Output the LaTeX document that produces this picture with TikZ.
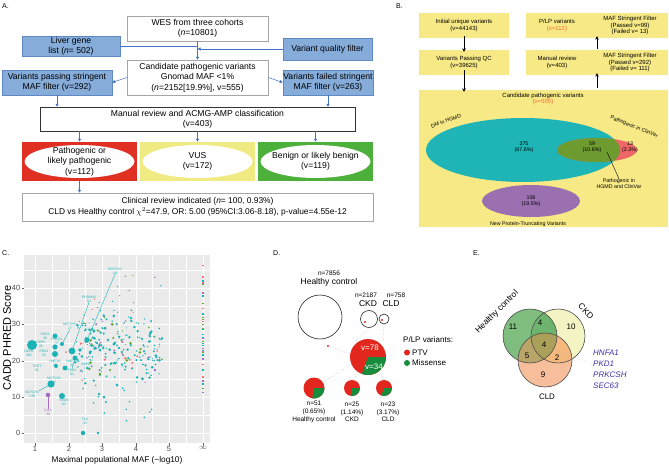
\documentclass[tikz,border=0pt]{standalone}
\usepackage{fontspec}
\setmainfont{Liberation Sans}
\usetikzlibrary{shapes.geometric,arrows.meta,calc}
\definecolor{cBlue}{RGB}{134,172,218}
\definecolor{cBlueE}{RGB}{96,136,196}
\definecolor{cArr}{RGB}{68,114,196}
\definecolor{cRed}{RGB}{224,48,36}
\definecolor{cYel}{RGB}{240,234,130}
\definecolor{cGrnA}{RGB}{76,176,58}
\definecolor{cYB}{RGB}{247,234,134}
\definecolor{cTeal}{RGB}{31,180,182}
\definecolor{cCV}{RGB}{238,102,102}
\definecolor{cOv}{RGB}{110,155,48}
\definecolor{cPurB}{RGB}{155,112,176}
\definecolor{cOr}{RGB}{240,110,50}
\definecolor{cPanel}{RGB}{235,235,235}
\definecolor{cPt}{RGB}{26,178,180}
\definecolor{cPurC}{RGB}{165,110,190}
\definecolor{cGrnC}{RGB}{100,165,40}
\definecolor{cPinkC}{RGB}{240,120,120}
\definecolor{cRedD}{RGB}{226,40,30}
\definecolor{cGrnD}{RGB}{22,140,60}
\definecolor{cHC}{RGB}{128,190,128}
\definecolor{cCKD}{RGB}{243,243,195}
\definecolor{cCLD}{RGB}{246,190,155}
\definecolor{cHCCKD}{RGB}{110,180,110}
\definecolor{cHCCLD}{RGB}{185,165,105}
\definecolor{cCKDCLD}{RGB}{245,185,125}
\definecolor{cTri}{RGB}{170,160,90}
\definecolor{cGene}{RGB}{60,50,170}
\tikzset{
  fA/.style={font=\fontsize{8.6}{10.4}\selectfont},
  fB/.style={font=\fontsize{6}{6.6}\selectfont},
  fBs/.style={font=\fontsize{5.3}{6}\selectfont},
  abox/.style={draw=gray!70, fill=white, align=center, inner sep=0pt, fA},
  bluebox/.style={draw=cBlueE, fill=cBlue, align=center, inner sep=0pt, fA},
  colbox/.style={inner sep=0pt, minimum width=115pt, minimum height=39pt},
  aline/.style={cArr, line width=0.5pt},
  aarr/.style={cArr, line width=0.5pt, -{Latex[length=3pt,width=3.4pt]}},
  ybox/.style={fill=cYB, inner sep=0pt, align=center, fB},
  barr/.style={black, line width=0.6pt, -{Stealth[length=3.5pt,width=3.5pt]}},
  plab/.style={font=\fontsize{7}{8}\selectfont, anchor=west, inner sep=0pt},
  glab/.style={text=cPt, font=\fontsize{3.4}{3.8}\selectfont, align=center, inner sep=0pt},
  tick/.style={text=black!70, font=\fontsize{7.5}{8}\selectfont, inner sep=0pt},
  dtxt/.style={font=\fontsize{6.5}{7.6}\selectfont, align=center, inner sep=0pt},
  dotl/.style={gray!70, dotted, line width=0.5pt},
  etxt/.style={font=\fontsize{8}{9}\selectfont, inner sep=0pt},
  gene/.style={text=cGene, font=\fontsize{8}{9}\selectfont\itshape, anchor=west, inner sep=0pt}
}
\begin{document}
\begin{tikzpicture}[x=1pt,y=-1pt]
\useasboundingbox (0,0) rectangle (669,465);
\fill[white] (0,0) rectangle (669,465);

%================ Panel A
\node[plab] (labA) at (2,6) {A.};
\node[abox, minimum width=141pt, minimum height=25pt] (wes) at (197.5,28.5) {WES from three cohorts\\(\textit{n}=10801)};
\node[bluebox, minimum width=98pt, minimum height=20pt] (liver) at (71,46.5) {Liver gene\\list (\textit{n}= 502)};
\node[bluebox, minimum width=89pt, minimum height=22pt] (qual) at (327.5,49) {Variant quality filter};
\node[abox, minimum width=141pt, minimum height=35pt] (cand) at (197.5,77.5) {Candidate pathogenic variants\\Gnomad MAF <1\%\\(\textit{n}=2152[19.9\%], v=555)};
\node[bluebox, minimum width=110pt, minimum height=25pt] (pass) at (57,82.5) {Variants passing stringent\\MAF filter (v=292)};
\node[bluebox, minimum width=90pt, minimum height=25pt] (fail) at (328,82.5) {Variants failed stringent\\MAF filter (v=263)};
\node[draw=black!80, fill=white, align=center, inner sep=0pt, fA, minimum width=315pt, minimum height=24pt] (man) at (197.5,119) {Manual review and ACMG-AMP classification\\(v=403)};
\node[colbox, fill=cRed] (plp) at (79.5,161.5) {};
\node[colbox, fill=cYel] (vus) at (197.5,161.5) {};
\node[colbox, fill=cGrnA] (ben) at (315.5,161.5) {};
\fill[white] (plp.center) ellipse [x radius=55, y radius=16.5];
\fill[white] (vus.center) ellipse [x radius=55, y radius=16.5];
\fill[white] (ben.center) ellipse [x radius=55, y radius=16.5];
\node[fA, align=center, inner sep=0pt] (plpt) at (plp.center) {Pathogenic or\\likely pathogenic\\(v=112)};
\node[fA, align=center, inner sep=0pt] (vust) at (vus.center) {VUS\\(v=172)};
\node[fA, align=center, inner sep=0pt] (bent) at (ben.center) {Benign or likely benign\\(v=119)};
\node[abox, minimum width=351pt, minimum height=28pt, font=\fontsize{8.4}{10.6}\selectfont] (clin) at (197.5,207) {Clinical review indicated (\textit{n}= 100, 0.93\%)\\CLD vs Healthy control $\chi^2$=47.9, OR: 5.00 (95\%CI:3.06-8.18), p-value=4.55e-12};
\draw[aline] (liver.east) -- (liver.east -| wes.south);
\draw[aarr] (qual.west) -- (qual.west -| wes.south);
\draw[aarr] (wes.south) -- (cand.north);
\draw[aarr] (cand.west) -- (pass.east);
\draw[aarr] (cand.east) -- (fail.east -| fail.west);
\draw[aarr] (pass.south) -- (pass.south |- man.north);
\draw[aarr] (fail.south) -- (fail.south |- man.north);
\draw[aarr] (plp.north |- man.south) -- (plp.north);
\draw[aarr] (man.south) -- (vus.north);
\draw[aarr] (ben.north |- man.south) -- (ben.north);
\draw[aarr] (plp.south) -- (plp.south |- clin.north);

%================ Panel B
\node[plab] (labB) at (396,6) {B.};
\node[ybox, minimum width=90pt, minimum height=25pt] (init) at (464,25.5) {Initial unique variants\\(v=44143)};
\node[ybox, minimum width=90pt, minimum height=25pt] (qc) at (464,62.5) {Variants Passing QC\\(v=39625)};
\node[ybox, minimum width=142pt, minimum height=25pt] (plpb) at (597,25.5) {};
\node[ybox, minimum width=142pt, minimum height=25pt] (manb) at (597,62.5) {};
\node[fB, align=center, inner sep=0pt] (plpbt) at (557,25.5) {P/LP variants\\\textcolor{cOr}{(v=112)}};
\node[fB, align=center, inner sep=0pt] (plpbm) at (630,25.5) {MAF Stringent Filter\\(Passed v=99)\\(Failed v= 13)};
\node[fB, align=center, inner sep=0pt] (manbt) at (557,62.5) {Manual review\\(v=403)};
\node[fB, align=center, inner sep=0pt] (manbm) at (630,62.5) {MAF Stringent Filter\\(Passed v=292)\\(Failed v= 111)};
\node[fill=cYB, inner sep=0pt, minimum width=249pt, minimum height=137pt] (candb) at (543.5,158.5) {};
\node[fB, align=center, inner sep=0pt] (candbt) at (543,99) {Candidate pathogenic variants\\\textcolor{cOr}{(v=555)}};
\coordinate (upA) at (597,88);
\coordinate (upB) at (597,49);
\draw[barr] ([yshift=2pt]init.south) -- ([yshift=-2pt]qc.north);
\draw[barr] ([yshift=5pt]qc.south) -- ([yshift=-2pt]qc.south |- candb.north);
\draw[barr] (upA) -- ([yshift=2pt]manb.south -| upA);
\draw[barr] (upB) -- ([yshift=2pt]plpb.south -| upB);
\fill[cTeal] (523,150) ellipse [x radius=97, y radius=32];
\fill[cCV] (597,150) ellipse [x radius=40, y radius=12];
\begin{scope}
  \clip (523,150) ellipse [x radius=97, y radius=32];
  \fill[cOv] (597,150) ellipse [x radius=40, y radius=12];
\end{scope}
\fill[cPurB] (531,201) ellipse [x radius=49, y radius=16];
\node[fBs, align=center, inner sep=0pt] (v375) at (524,147) {375\\(67.6\%)};
\node[fBs, align=center, inner sep=0pt] (v59) at (592,147) {59\\(10.6\%)};
\node[fBs, align=center, inner sep=0pt] (v13) at (630,147) {13\\(2.3\%)};
\node[fBs, align=center, inner sep=0pt] (v108) at (531,201) {108\\(19.5\%)};
\node[fBs, inner sep=0pt] (nptv) at (528,224) {New Protein-Truncating Variants};
\node[fBs, inner sep=0pt, rotate=20] (dm) at (446,121) {DM in HGMD};
\node[fBs, inner sep=0pt, rotate=-22] (pcv) at (634,127) {Pathogenic in ClinVar};
\node[fBs, align=center, inner sep=0pt] (phc) at (619,184) {Pathogenic in\\HGMD and ClinVar};
\coordinate (phcp) at (607,152);
\draw[black, line width=0.4pt] (phcp) -- (phc.north);

%================ Panel C
\node[plab] (labC) at (2,253) {C.};
\fill[cPanel] (24,255) rectangle (210,443);
\foreach \x in {52,85.5,119,152.5,186} \draw[white, line width=0.3pt] (\x,255) -- (\x,443);
\foreach \y in {415,379,343,306,270} \draw[white, line width=0.3pt] (24,\y) -- (210,\y);
\foreach \x in {35,69,102,136,169,203} \draw[white, line width=0.7pt] (\x,255) -- (\x,443);
\foreach \y in {433,397,361,324,288} \draw[white, line width=0.7pt] (24,\y) -- (210,\y);
\foreach \y/\t in {433/0,397/10,361/20,324/30,288/40} {
  \draw[black!60, line width=0.4pt] (21.5,\y) -- (24,\y);
  \node[tick, anchor=east] at (20.5,\y) {\t};
}
\foreach \x/\t in {35/1,69/2,102/3,136/4,169/5} {
  \draw[black!60, line width=0.4pt] (\x,443) -- (\x,445.5);
  \node[tick, anchor=north] at (\x,446) {\t};
}
\draw[black!60, line width=0.4pt] (203,443) -- (203,445.5);
\node[tick, anchor=north] (inf) at (203,446.5) {$\infty$};
\node[font=\fontsize{8.3}{9}\selectfont, inner sep=0pt] (xt) at (117,460) {Maximal populational MAF (−log10)};
\node[font=\fontsize{11}{12}\selectfont, inner sep=0pt, rotate=90] (yt) at (7,338) {CADD PHRED Score};
% random cloud
\pgfmathsetseed{4242}
\foreach \i in {1,...,230}{
  \pgfmathsetmacro{\mx}{2.2+2.6*rnd}
  \pgfmathsetmacro{\sc}{23+6.5*(rand+rand+rand)/1.4}
  \pgfmathsetmacro{\px}{35+(\mx-1)*33.5}
  \pgfmathsetmacro{\py}{433-3.625*\sc}
  \pgfmathtruncatemacro{\ci}{int(rnd*20)}
  \pgfmathsetmacro{\rr}{0.55+0.9*rnd}
  \ifnum\ci<15 \def\cc{cPt}\else\ifnum\ci<17 \def\cc{cPurC}\else\ifnum\ci<19 \def\cc{cGrnC}\else\def\cc{cPinkC}\fi\fi\fi
  \fill[\cc] (\px,\py) circle[radius=\rr];
}
\foreach \i in {1,...,25}{
  \pgfmathsetmacro{\mx}{2.6+2.2*rnd}
  \pgfmathsetmacro{\sc}{30+14*rnd}
  \pgfmathsetmacro{\px}{35+(\mx-1)*33.5}
  \pgfmathsetmacro{\py}{433-3.625*\sc}
  \pgfmathtruncatemacro{\ci}{int(rnd*20)}
  \ifnum\ci<11 \def\cc{cPt}\else\ifnum\ci<16 \def\cc{cPurC}\else\ifnum\ci<18 \def\cc{cGrnC}\else\def\cc{cPinkC}\fi\fi\fi
  \fill[\cc] (\px,\py) circle[radius=0.7];
}
\foreach \i in {1,...,12}{
  \pgfmathsetmacro{\mx}{2.1+2.4*rnd}
  \pgfmathsetmacro{\sc}{3+10*rnd}
  \pgfmathsetmacro{\px}{35+(\mx-1)*33.5}
  \pgfmathsetmacro{\py}{433-3.625*\sc}
  \fill[cPt] (\px,\py) circle[radius=0.9];
}
\foreach \i in {1,...,48}{
  \pgfmathsetmacro{\sc}{10+37*rnd}
  \pgfmathsetmacro{\py}{433-3.625*\sc}
  \pgfmathtruncatemacro{\ci}{int(rnd*20)}
  \ifnum\ci<8 \def\cc{cPt}\else\ifnum\ci<13 \def\cc{cPurC}\else\ifnum\ci<16 \def\cc{cGrnC}\else\def\cc{cPinkC}\fi\fi\fi
  \fill[\cc] (201.8,\py) rectangle (204.2,\py+1.1);
}
% highlighted points
\foreach \px/\py/\r in {32/345/5, 55/336/2.5, 55/347/2.6, 55/354/3, 62/344/2, 72/351/3.4, 75/358/2.4, 56/366/2, 65/368/2.4, 51/384/3.6, 62/396/3, 87/340/2.8, 83/433/2.2, 94/331/1.6, 100/350/1.5, 114/344/1.6, 104/397/1.5, 99/394/1.3, 117/385/1.5, 98/433/1.3, 80/350/1.8, 90/352/1.5, 108/340/1.4, 100/375/1.2, 119/348/1.3, 106/402/1.2}
  \fill[cPt] (\px,\py) circle[radius=\r];
\fill[cPurC] (48,395) circle[radius=2.3];
\fill[cPinkC] (66,352) circle[radius=1];
\fill[cPinkC] (82,380) circle[radius=0.9];
\fill[cGrnC] (100,374) circle[radius=1.3];
\fill[cGrnC] (110,370) circle[radius=1.2];
% labels
\node[glab] (g1) at (115,271) {NOTCH1\\28};
\node[glab] (g2) at (89,299) {PRDM16\\52};
\node[glab] (g3) at (70,326) {NOTCH1\\27};
\node[glab] (g4) at (45,336) {PKD1\\38};
\node[glab] (g5) at (57,341) {POLD1\\37};
\node[glab] (g6) at (41,344) {G6PC\\26};
\node[glab] (g7) at (29,353) {G6PD\\362};
\node[glab] (g8) at (44,353) {PKD1\\53};
\node[glab] (g9) at (55,363) {HNF1A\\28};
\node[glab] (g10) at (72,363) {HNF1A\\21};
\node[glab] (g11) at (86,366) {G6PD\\11};
\node[glab] (g12) at (37,368) {TERT\\61};
\node[glab] (g13) at (72,372) {PKD1\\61};
\node[glab] (g14) at (54,380) {NOTCH1\\42};
\node[glab] (g15) at (32,394) {NOTCH1\\139};
\node[glab] (g16) at (64,402) {SRD5\\61};
\node[glab, text=cPurC] (g17) at (48,412) {GAA\\30};
\node[glab] (g18) at (85,421) {TK2\\33};
\coordinate (p1) at (87,340);
\coordinate (p2) at (72,351);
\coordinate (p15) at (51,384);
\coordinate (p17) at (48,395);
\coordinate (p10) at (75,358);
\coordinate (p3) at (62,344);
\draw[cPt, line width=0.4pt] (g1.south) -- (p1);
\draw[cPt, line width=0.4pt] (g2.south) -- (p2);
\draw[cPt, line width=0.4pt] (g15.north east) -- (p15);
\draw[cPt, line width=0.4pt] (g3.south) -- (p3);
\draw[cPt, line width=0.4pt] (g13.north) -- (p10);
\draw[cPurC, line width=0.4pt] (g17.north) -- (p17);

%================ Panel D
\node[plab] (labD) at (273,253) {D.};
\node[circle, draw=black!85, line width=0.6pt, minimum size=44pt, inner sep=0pt] (hc) at (320,317) {};
\node[circle, draw=black!85, line width=0.6pt, minimum size=17pt, inner sep=0pt] (ckd) at (369,319) {};
\node[circle, draw=black!85, line width=0.6pt, minimum size=10pt, inner sep=0pt] (cld) at (384,319) {};
\coordinate (rd1) at (328,346);
\fill[cRedD] (rd1) circle[radius=1.2];
\fill[cRedD] (365,322) circle[radius=1.2];
\fill[cRedD] (382,320) circle[radius=1.2];
\node[dtxt] (nhc) at (329,273) {n=7856};
\node[font=\fontsize{8.5}{9}\selectfont, inner sep=0pt] (thc) at (329,282) {Healthy control};
\node[dtxt] (nckd) at (366,295) {n=2187};
\node[dtxt] (ncld) at (396,295) {n=758};
\node[font=\fontsize{8.5}{9}\selectfont, inner sep=0pt] (tckd) at (368,304) {CKD};
\node[font=\fontsize{8.5}{9}\selectfont, inner sep=0pt] (tcld) at (391,304) {CLD};
\coordinate (bp) at (368,357);
\coordinate (sp1) at (314,388);
\coordinate (sp2) at (352,388);
\coordinate (sp3) at (384,388);
\draw[dotl] (rd1) -- (350,354);
\draw[dotl] (ckd.south) -- (355,342);
\draw[dotl] (cld.south) -- (383,340);
\draw[dotl] (352,364) -- (sp1);
\draw[dotl] (356,374) -- (sp2);
\draw[dotl] (382,374) -- (sp3);
\fill[cRedD] (bp) circle[radius=18];
\fill[cGrnD] (bp) -- (386,357) arc[start angle=0, end angle=110, radius=18] -- cycle;
\node[font=\fontsize{8}{9}\selectfont, text=white, inner sep=0pt] (v78) at (370,348) {v=78};
\node[font=\fontsize{8}{9}\selectfont, text=white, inner sep=0pt] (v34) at (374,367) {v=34};
\fill[cRedD] (sp1) circle[radius=10.5];
\fill[cGrnD] (sp1) -- ($(sp1)+(10.5,0)$) arc[start angle=0, end angle=100, radius=10.5] -- cycle;
\fill[cRedD] (sp2) circle[radius=8];
\fill[cGrnD] (sp2) -- ($(sp2)+(8,0)$) arc[start angle=0, end angle=100, radius=8] -- cycle;
\fill[cRedD] (sp3) circle[radius=8];
\fill[cGrnD] (sp3) -- ($(sp3)+(8,0)$) arc[start angle=0, end angle=110, radius=8] -- cycle;
\node[dtxt] (l1) at (314,412) {n=51\\(0.65\%)\\Healthy control};
\node[dtxt] (l2) at (352,412) {n=25\\(1.14\%)\\CKD};
\node[dtxt] (l3) at (388,412) {n=23\\(3.17\%)\\CLD};
\node[font=\fontsize{8}{9}\selectfont, anchor=west, inner sep=0pt] (lg) at (403,340) {P/LP variants:};
\fill[cRedD] (407,352.5) circle[radius=3];
\fill[cGrnD] (407,363) circle[radius=3];
\node[font=\fontsize{8}{9}\selectfont, anchor=west, inner sep=0pt] (lg1) at (412,352.5) {PTV};
\node[font=\fontsize{8}{9}\selectfont, anchor=west, inner sep=0pt] (lg2) at (412,363) {Missense};

%================ Panel E
\node[plab] (labE) at (473,253) {E.};
\fill[cHC] (530,336) circle[radius=27];
\fill[cCKD] (558,336) circle[radius=27];
\fill[cCLD] (545,360) circle[radius=27];
\begin{scope}\clip (530,336) circle[radius=27]; \fill[cHCCKD] (558,336) circle[radius=27]; \end{scope}
\begin{scope}\clip (530,336) circle[radius=27]; \fill[cHCCLD] (545,360) circle[radius=27]; \end{scope}
\begin{scope}\clip (558,336) circle[radius=27]; \fill[cCKDCLD] (545,360) circle[radius=27]; \end{scope}
\begin{scope}\clip (530,336) circle[radius=27]; \clip (558,336) circle[radius=27]; \fill[cTri] (545,360) circle[radius=27]; \end{scope}
\draw[black!70, line width=0.6pt] (530,336) circle[radius=27];
\draw[black!70, line width=0.6pt] (558,336) circle[radius=27];
\draw[black!70, line width=0.6pt] (545,360) circle[radius=27];
\node[etxt] (e11) at (513,327) {11};
\node[etxt] (e4a) at (540,323) {4};
\node[etxt] (e10) at (571,327) {10};
\node[etxt] (e4b) at (544,345) {4};
\node[etxt] (e5) at (527,356) {5};
\node[etxt] (e2) at (557,358) {2};
\node[etxt] (e9) at (543,375) {9};
\node[font=\fontsize{8.5}{9}\selectfont, inner sep=0pt, rotate=45] (ehc) at (497,312) {Healthy control};
\node[font=\fontsize{8.5}{9}\selectfont, inner sep=0pt, rotate=-45] (eckd) at (586,311) {CKD};
\node[font=\fontsize{8}{9}\selectfont, inner sep=0pt] (ecld) at (547,397) {CLD};
\node[gene] (gA) at (593,353) {HNFA1};
\node[gene] (gB) at (593,364) {PKD1};
\node[gene] (gC) at (593,375) {PRKCSH};
\node[gene] (gD) at (593,386) {SEC63};
\coordinate (e2p) at (555,350);
\draw[dotl, line width=0.4pt] (e2p) -- (gB.west);
\end{tikzpicture}
\end{document}
